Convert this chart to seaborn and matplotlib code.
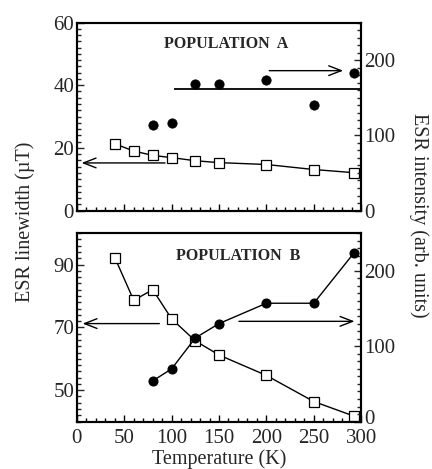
import numpy as np
import pandas as pd
import matplotlib
matplotlib.use("Agg")
import matplotlib.pyplot as plt
import matplotlib.transforms as mtransforms
from matplotlib.ticker import MultipleLocator
import seaborn as sns

# ---- data -------------------------------------------------------------
temp_lw = [40, 60, 80, 100, 125, 150, 200, 250, 292]
lw_a = [21.3, 19.0, 17.6, 16.9, 15.9, 15.3, 14.7, 13.1, 12.1]
lw_b = [92.2, 78.6, 82.0, 72.7, 65.7, 61.2, 54.7, 46.4, 41.8]

temp_int = [80, 100, 125, 150, 200, 250, 292]
int_a = [114, 116, 168, 168, 173, 140, 183]
int_b = [54, 70, 111, 130, 157, 157, 223]

mean_int_a = 161          # horizontal level drawn through population A intensity
mean_int_a_start = 103

x_ticks = [0, 50, 100, 150, 200, 250, 300]
lw_a_ticks = [0, 20, 40, 60]
lw_b_ticks = [50, 70, 90]
int_ticks = [0, 100, 200]

sns.set_style("ticks")
plt.rcParams["font.family"] = ["Liberation Serif", "DejaVu Serif"]

fig = plt.figure(figsize=(4.32, 4.69), dpi=100)
ax_a = fig.add_axes([0.178, 0.551, 0.658, 0.401])
ax_b = fig.add_axes([0.178, 0.101, 0.658, 0.402])

df_lw = pd.DataFrame({"T": temp_lw, "A": lw_a, "B": lw_b})
df_int = pd.DataFrame({"T": temp_int, "A": int_a, "B": int_b})

sq = dict(marker="s", markersize=6.5, markerfacecolor="white",
          markeredgecolor="black", markeredgewidth=0.9, color="black",
          linewidth=1.0)
circ = dict(marker="o", markersize=6.5, markerfacecolor="black",
            markeredgecolor="black", color="black", linewidth=1.0)

tick_fs = 15


def style_axes(ax, twin, xlabels):
    for a in (ax, twin):
        for s in a.spines.values():
            s.set_linewidth(1.5)
            s.set_color("black")
    ax.set_xlim(0, 300)
    ax.set_xticks(x_ticks)
    ax.xaxis.set_minor_locator(MultipleLocator(10))
    ax.tick_params(axis="x", which="both", direction="in", top=False,
                   bottom=True, labelbottom=xlabels, labelsize=tick_fs,
                   color="black", width=1.0, pad=5.5)
    ax.tick_params(axis="x", which="major", length=5)
    ax.tick_params(axis="x", which="minor", length=3)
    ax.yaxis.set_minor_locator(MultipleLocator(2))
    ax.tick_params(axis="y", which="both", direction="in", left=True,
                   right=False, labelsize=tick_fs, pad=2, width=1.0)
    ax.tick_params(axis="y", which="major", length=5)
    ax.tick_params(axis="y", which="minor", length=3)
    twin.set_ylim(0, 250)
    twin.set_yticks(int_ticks)
    twin.yaxis.set_minor_locator(MultipleLocator(10))
    twin.tick_params(axis="y", which="both", direction="in", right=True,
                     left=False, labelsize=tick_fs, pad=2, width=1.0)
    twin.tick_params(axis="y", which="major", length=5)
    twin.tick_params(axis="y", which="minor", length=3)
    ax.set_xlabel("")
    ax.set_ylabel("")
    twin.set_xlabel("")
    twin.set_ylabel("")


arrow = dict(arrowstyle="->,head_length=0.9,head_width=0.35",
             color="black", lw=1.0, shrinkA=0, shrinkB=0)

# ---- population A -----------------------------------------------------
tw_a = ax_a.twinx()
sns.lineplot(data=df_lw, x="T", y="A", ax=ax_a, zorder=3, **sq)
sns.scatterplot(data=df_int, x="T", y="A", ax=tw_a, marker="o", s=45,
                color="black", edgecolor="black", zorder=3)
tw_a.hlines(mean_int_a, mean_int_a_start, 300, color="black", lw=1.3)
ax_a.set_ylim(0, 60)
ax_a.set_yticks(lw_a_ticks)
style_axes(ax_a, tw_a, xlabels=False)
ax_a.annotate("", xy=(5, 15.2), xytext=(93, 15.2), arrowprops=arrow)
tw_a.annotate("", xy=(281, 186), xytext=(203, 186), arrowprops=arrow)
ax_a.text(157, 53.0, "POPULATION  A", ha="center", va="center",
          fontsize=11.5, fontweight="bold")

# ---- population B -----------------------------------------------------
tw_b = ax_b.twinx()
sns.lineplot(data=df_lw, x="T", y="B", ax=ax_b, zorder=3, **sq)
sns.lineplot(data=df_int, x="T", y="B", ax=tw_b, zorder=3, **circ)
ax_b.set_ylim(40, 100)
ax_b.set_yticks(lw_b_ticks)
style_axes(ax_b, tw_b, xlabels=True)
ax_b.annotate("", xy=(6, 71.2), xytext=(87, 71.2), arrowprops=arrow)
tw_b.annotate("", xy=(293, 133), xytext=(171, 133), arrowprops=arrow)
ax_b.text(170, 92.8, "POPULATION  B", ha="center", va="center",
          fontsize=11.5, fontweight="bold")

# lift the lowest right-hand label clear of the "300" below it
lift = mtransforms.ScaledTranslation(0, 5 / 100, fig.dpi_scale_trans)
low_label = tw_b.get_yticklabels()[0]
low_label.set_transform(low_label.get_transform() + lift)

# ---- shared labels ----------------------------------------------------
fig.text(219 / 432, 1 - 459 / 469, "Temperature (K)", ha="center",
         va="center", fontsize=14.5)
fig.text(25 / 432, 1 - 222 / 469, "ESR linewidth (\u00b5T)", ha="center",
         va="center", rotation=90, fontsize=14.5)
fig.text(419 / 432, 1 - 215 / 469, "ESR intensity (arb. units)",
         ha="center", va="center", rotation=270, fontsize=14.5)

fig.savefig("out.png", dpi=100)
